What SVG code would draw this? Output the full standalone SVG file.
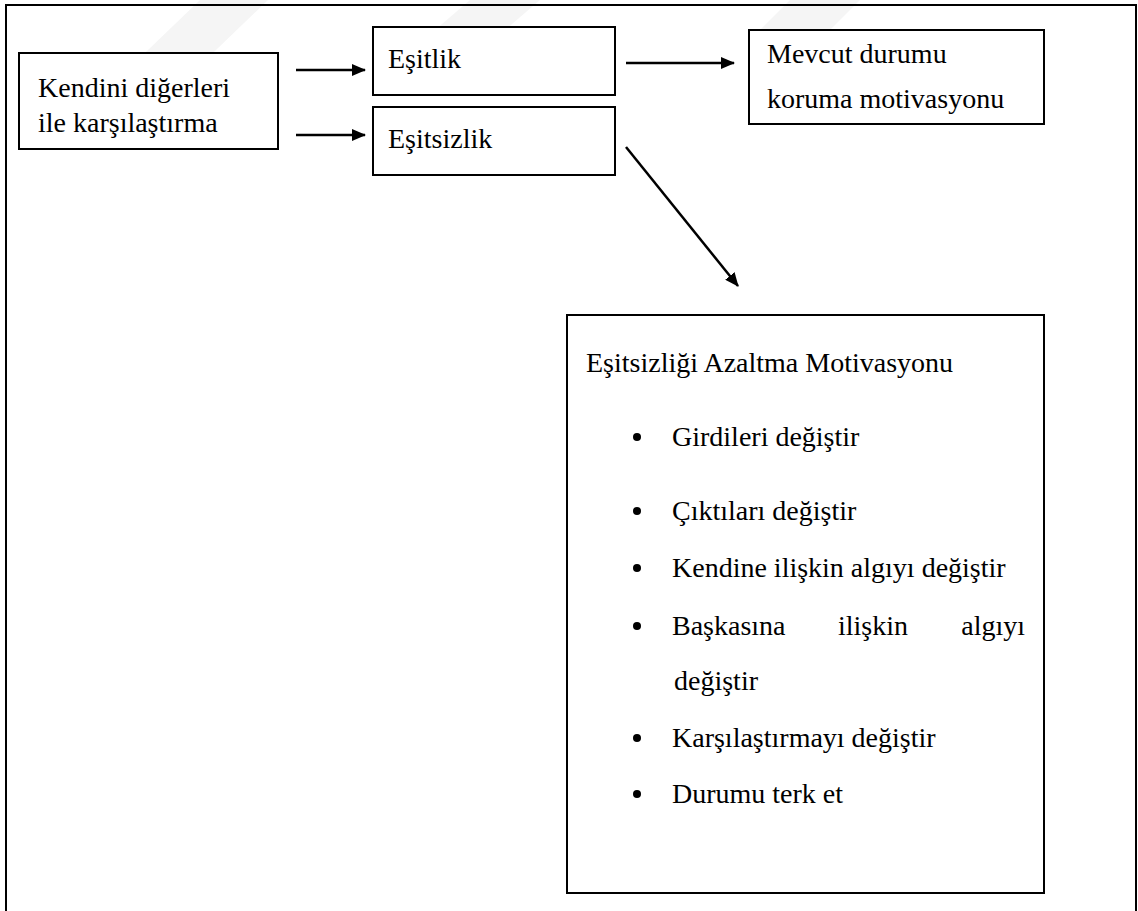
<svg xmlns="http://www.w3.org/2000/svg" width="1138" height="911" viewBox="0 0 1138 911">
<style>
.box{fill:#fff;stroke:#000;stroke-width:2}
.t{font-size:28px;fill:#000}
.c{stroke:#000;stroke-width:2.5;fill:none}
.wm{fill:#f5f5f5}
</style>
<defs>
<marker id="ah" viewBox="0 0 14 12" refX="13" refY="6" markerWidth="14" markerHeight="12" markerUnits="userSpaceOnUse" orient="auto">
<path d="M0,0 L14,6 L0,12 Z" fill="#000"/>
</marker>
</defs>
<rect width="1138" height="911" fill="#fff"/>
<g id="watermark">
<path class="wm" d="M200,0 L268,0 L190,75 L122,75 Z"/>
<path class="wm" d="M470,0 L540,0 L470,60 L400,60 Z"/>
<path class="wm" d="M790,0 L860,0 L820,40 L750,40 Z"/>
</g>
<g id="frame">
<path d="M6,911 L6,5 L1136,5 L1136,911" fill="none" stroke="#000" stroke-width="2"/>
</g>
<g id="connectors">
<line class="c" x1="296" y1="70" x2="365" y2="70" marker-end="url(#ah)"/>
<line class="c" x1="296" y1="135" x2="365" y2="135" marker-end="url(#ah)"/>
<line class="c" x1="626" y1="63" x2="734" y2="63" marker-end="url(#ah)"/>
<line class="c" x1="626" y1="147" x2="738" y2="286" marker-end="url(#ah)"/>
</g>
<g id="nodes" font-family="Liberation Serif, Times New Roman, serif">
<g id="node-kendini">
<rect class="box" x="19" y="53" width="259" height="96"/>
<text class="t" x="38" y="97">Kendini diğerleri</text>
<text class="t" x="38" y="132">ile karşılaştırma</text>
</g>
<g id="node-esitlik">
<rect class="box" x="373" y="27" width="242" height="68"/>
<text class="t" x="388" y="68">Eşitlik</text>
</g>
<g id="node-esitsizlik">
<rect class="box" x="373" y="107" width="242" height="68"/>
<text class="t" x="388" y="148">Eşitsizlik</text>
</g>
<g id="node-mevcut">
<rect class="box" x="749" y="30" width="295" height="94"/>
<text class="t" x="767" y="63">Mevcut durumu</text>
<text class="t" x="767" y="108">koruma motivasyonu</text>
</g>
<g id="node-azaltma">
<rect class="box" x="567" y="315" width="477" height="578"/>
<text class="t" x="586" y="372">Eşitsizliği Azaltma Motivasyonu</text>
<g fill="#000">
<circle cx="637" cy="437" r="4"/>
<circle cx="637" cy="511" r="4"/>
<circle cx="637" cy="568" r="4"/>
<circle cx="637" cy="626" r="4"/>
<circle cx="637" cy="738" r="4"/>
<circle cx="637" cy="794" r="4"/>
</g>
<text class="t" x="672" y="446">Girdileri değiştir</text>
<text class="t" x="672" y="520">Çıktıları değiştir</text>
<text class="t" x="672" y="577">Kendine ilişkin algıyı değiştir</text>
<text class="t" x="672" y="635">Başkasına</text>
<text class="t" x="838" y="635">ilişkin</text>
<text class="t" x="1025" y="635" text-anchor="end">algıyı</text>
<text class="t" x="674" y="690">değiştir</text>
<text class="t" x="672" y="747">Karşılaştırmayı değiştir</text>
<text class="t" x="672" y="803">Durumu terk et</text>
</g>
</g>
</svg>
